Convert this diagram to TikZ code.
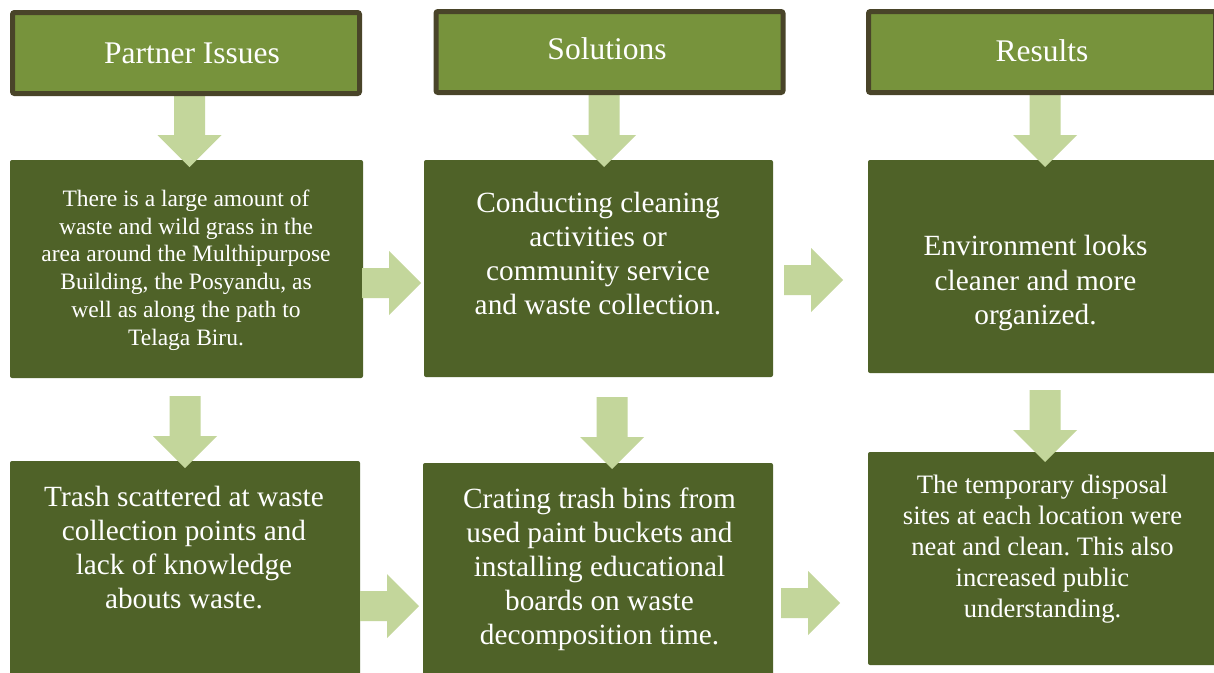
\documentclass[tikz,border=0pt]{standalone}
\usepackage{fontspec}
\setmainfont{Liberation Serif}
\frenchspacing

\definecolor{headfill}{HTML}{77933C}
\definecolor{headline}{HTML}{494429}
\definecolor{boxfill}{HTML}{4F6228}
\definecolor{arrowfill}{HTML}{C3D69B}

\tikzset{
  headbox/.style={draw=headline, line width=5pt, fill=headfill, rounded corners=2pt,
    minimum width=347pt, minimum height=81pt, inner sep=0pt},
  headtext/.style={text=white, inner sep=0pt, font=\fontsize{31.5}{36}\selectfont},
  stagebox/.style={fill=boxfill, rounded corners=2pt, inner sep=0pt},
  stagetext/.style={text=white, align=center, inner sep=0pt},
  pics/downblk/.style={code={
    \fill[arrowfill] (-15.5,0) -- (15.5,0) -- (15.5,40) -- (32,40) -- (0,72)
      -- (-32,40) -- (-15.5,40) -- cycle;}},
  pics/rightblk/.style={code={
    \fill[arrowfill] (0,-15) -- (27,-15) -- (27,-32) -- (59,0) -- (27,32)
      -- (27,15) -- (0,15) -- cycle;}}
}

\begin{document}
\begin{tikzpicture}[x=1pt, y=-1pt]
        \fill[white] (0,0) rectangle (1214,672);
        \useasboundingbox (0,0) rectangle (1214,672);

        % stage boxes
        \node[stagebox, minimum width=353pt, minimum height=218pt] (issueA) at (186.5,269) {};
        \node[stagebox, minimum width=350pt, minimum height=216pt] (issueB) at (185,569) {};
        \node[stagebox, minimum width=349pt, minimum height=217pt] (solutionA) at (598.5,268.5) {};
        \node[stagebox, minimum width=350pt, minimum height=214pt] (solutionB) at (598,570) {};
        \node[stagebox, minimum width=350pt, minimum height=213pt] (resultA) at (1043,266.5) {};
        \node[stagebox, minimum width=350pt, minimum height=213pt] (resultB) at (1043,558.5) {};

        % texts
        \node[stagetext, font=\fontsize{23.5}{27.8}\selectfont] (issueAtext) at (186,270)
          {There is a large amount of\\waste and wild grass in the\\area around the Multhipurpose\\Building, the Posyandu, as\\well as along the path to\\Telaga Biru.};
        \node[stagetext, font=\fontsize{29.3}{34}\selectfont] (issueBtext) at (184,548)
          {Trash scattered at waste\\collection points and\\lack of knowledge\\abouts waste.};
        \node[stagetext, font=\fontsize{29.3}{34}\selectfont] (solutionAtext) at (598,254)
          {Conducting cleaning\\activities or\\community service\\and waste collection.};
        \node[stagetext, font=\fontsize{29.3}{34}\selectfont] (solutionBtext) at (599.5,569)
          {Crating trash bins from\\used paint buckets and\\installing educational\\boards on waste\\decomposition time.};
        \node[stagetext, font=\fontsize{29.3}{34.5}\selectfont] (resultAtext) at (1035.5,283)
          {Environment looks\\cleaner and more\\organized.};
        \node[stagetext, font=\fontsize{26.6}{31}\selectfont] (resultBtext) at (1042.5,549)
          {The temporary disposal\\sites at each location were\\neat and clean. This also\\increased public\\understanding.};

        % block arrows
        \pic at (189.5,95) {downblk};
        \pic at (604,95) {downblk};
        \pic at (1045,95) {downblk};
        \pic at (185,396) {downblk};
        \pic at (612,397) {downblk};
        \pic at (1045,390) {downblk};
        \pic at (362,283) {rightblk};
        \pic at (784,280) {rightblk};
        \pic at (360,606) {rightblk};
        \pic at (781,603) {rightblk};

        % headers
        \node[headbox] (issueHead) at (186,53) {};
        \node[headbox] (solutionHead) at (609.5,52) {};
        \node[headbox] (resultHead) at (1042,52) {};
        \node[headtext] (issueHeadtext) at (192,53) {Partner Issues};
        \node[headtext] (solutionHeadtext) at (607,49) {Solutions};
        \node[headtext] (resultHeadtext) at (1042,51) {Results};
      \end{tikzpicture}
\end{document}
